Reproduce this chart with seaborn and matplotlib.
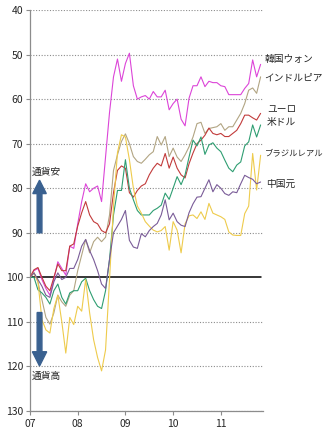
import numpy as np
import pandas as pd
import matplotlib
matplotlib.use("Agg")
import matplotlib.pyplot as plt
import seaborn as sns

# ---- data (monthly index, Jan 2007 = 100) ----
year_labels = ["07", "08", "09", "10", "11"]
series_names = ["韓国ウォン", "インドルピア", "米ドル", "ユーロ", "ブラジルレアル", "中国元"]

krw = [100, 98.5, 98, 100.5, 102.5, 104, 100.5, 96.5, 98, 99.5,
       93, 93.5, 88, 83, 79, 80.8, 80, 79.5, 83, 73,
       63, 55, 51, 56, 52, 49.7, 57, 60, 59.5, 59.2,
       60, 58.3, 59.5, 59.5, 58, 62.4, 61, 60, 64.5, 66,
       59.8, 57, 57, 55, 57.2, 56, 56.3, 56.3, 57, 57.2,
       59, 59, 59, 59, 57.6, 56.5, 51.2, 55, 52.2]

inr = [100, 99, 101, 105, 109, 110.5, 108, 104, 105.5, 106.5,
       104, 103, 98.5, 95, 91.5, 94.5, 92, 91, 92, 91,
       86, 76, 72.5, 69.5, 67.8, 70, 72.9, 74, 74.4, 73.5,
       72.5, 71.8, 68.4, 70.3, 68.4, 72.9, 71, 73, 74, 72.5,
       70.7, 68.5, 65.5, 65.2, 67.7, 66.6, 66.4, 66.2, 65.5, 67,
       66.2, 66.2, 64.7, 63.2, 61, 58, 57.5, 58.7, 55]

usd = [100, 98.3, 97.8, 100, 102, 103, 100, 97, 98.5, 98.5,
       93, 92.5, 88.5, 85.5, 83, 86, 87.5, 88, 89.5, 90,
       88, 81, 76, 75, 75.5, 81, 82, 80.5, 79.5, 79,
       77, 75.5, 74.4, 75, 72.2, 75.5, 73, 75.5, 77, 77.7,
       74.5, 72.1, 70, 69.2, 68.1, 66.5, 67.7, 68, 67.7, 68.4,
       68.4, 67.7, 67, 65.5, 63.6, 63.6, 64.2, 64.7, 63.2]

eur = [100, 100, 102.8, 103.5, 104.5, 106, 103, 101.5, 104.5, 106,
       103.5, 103, 103, 101, 100.2, 103, 105, 106.5, 107, 103,
       96, 86, 80.5, 80.5, 73.6, 80, 82.6, 85, 86, 86,
       86, 85, 84.5, 83.8, 81.1, 82.5, 80, 77.4, 79.2, 77,
       73, 69.2, 70.5, 68.5, 72.4, 70.3, 69.8, 71, 71.8, 73.7,
       75.5, 76.3, 74.8, 74.1, 70.5, 69.6, 65.8, 68.5, 65.8]

brl = [100, 99, 101, 109.5, 111.8, 112.5, 107, 104, 110, 117,
       109, 110.6, 106.5, 107.6, 100.5, 108, 114, 118, 121, 116.3,
       100.5, 84, 72, 68, 68.5, 73.6, 80, 84, 85.6, 87.5,
       88.5, 89.4, 89.8, 89.5, 88.6, 93.9, 87.5, 89.4, 94.5, 88,
       86.2, 86, 86.8, 85.3, 87, 83.4, 85.6, 86, 86.4, 87,
       89.8, 90.5, 90.6, 90.6, 85.7, 84, 72.2, 80.4, 72.6]

cny = [100, 99, 100.5, 102, 104, 104.5, 101, 99, 100.5, 100,
       98, 98, 96, 93, 91.5, 94, 96, 98.5, 101.5, 102.5,
       96, 90, 88.5, 87, 85, 91.7, 93.2, 93.5, 90.2, 90.9,
       89.5, 88.6, 87.9, 86, 82.6, 87.1, 85.6, 87.5, 88.3, 88.6,
       85.5, 83.5, 82, 81.9, 80, 78.1, 80.8, 79.2, 80, 81.2,
       81.6, 80.8, 81, 79, 77.1, 77.6, 78, 79, 78.6]

colors = {"韓国ウォン": "#dc45d8", "インドルピア": "#b2a583", "米ドル": "#c23b3b",
          "ユーロ": "#2f9e72", "ブラジルレアル": "#eecb4c", "中国元": "#7a5c98"}

values = [krw, inr, usd, eur, brl, cny]
month_idx = list(range(len(krw)))
frames = []
for name, vals in zip(series_names, values):
    assert len(vals) == len(krw)
    frames.append(pd.DataFrame({"month": month_idx, "value": vals, "currency": name}))
df = pd.concat(frames, ignore_index=True)

sns.set_style("white")
plt.rcParams["font.family"] = ["Noto Sans CJK JP", "DejaVu Sans"]

fig = plt.figure(figsize=(3.23, 4.37), dpi=100)
ax = fig.add_axes([30 / 323, 26 / 437, 233 / 323, 401 / 437])

# grid lines
for v in range(40, 131, 10):
    if v != 100:
        ax.axhline(v, color="#8c8c8c", lw=0.8, ls=(0, (1, 1.5)), zorder=0)
ax.axhline(100, color="black", lw=1.1, zorder=1, xmax=0.99)

sns.lineplot(data=df, x="month", y="value", hue="currency", hue_order=series_names,
             palette=colors, lw=0.8, legend=False, sort=False, ax=ax, zorder=3)

ax.set_xlim(0, 58.6)
ax.set_ylim(130, 40)
ax.set_yticks(range(40, 131, 10))
ax.set_xticks([0, 12, 24, 36, 48])
ax.set_xticklabels(year_labels)
ax.set_xlabel("")
ax.set_ylabel("")
ax.tick_params(axis="both", labelsize=7.5, length=3, width=0.8, color="#8c8c8c",
               direction="out", pad=2, left=True, bottom=True)
ax.tick_params(axis="x", pad=3)
for s in ["top", "right"]:
    ax.spines[s].set_visible(False)
for s in ["left", "bottom"]:
    ax.spines[s].set_color("#8c8c8c")
    ax.spines[s].set_linewidth(0.9)

# arrows
arrow_color = "#3a6190"
ax.arrow(2.4, 90, 0, -11.8, width=1.2, head_width=3.4, head_length=3.0,
         length_includes_head=True, color=arrow_color, zorder=4)
ax.arrow(2.4, 107.9, 0, 12.0, width=1.2, head_width=3.6, head_length=3.2,
         length_includes_head=True, color=arrow_color, zorder=4)
ax.text(0.5, 76.3, "通貨安", fontsize=7, va="center", ha="left")
ax.text(0.5, 122.1, "通貨高", fontsize=7, va="center", ha="left")

# right-hand labels
labels = [("韓国ウォン", 59.0, 51.0, 7), ("インドルピア", 59.0, 55.1, 7),
          ("ユーロ", 59.6, 62.3, 7), ("米ドル", 59.6, 65.2, 7),
          ("ブラジルレアル", 59.0, 72.0, 6), ("中国元", 59.4, 79.0, 7)]
for txt, x, y, fs in labels:
    ax.text(x, y, txt, fontsize=fs, va="center", ha="left", clip_on=False)

fig.savefig("out.png", dpi=100, facecolor="white")
